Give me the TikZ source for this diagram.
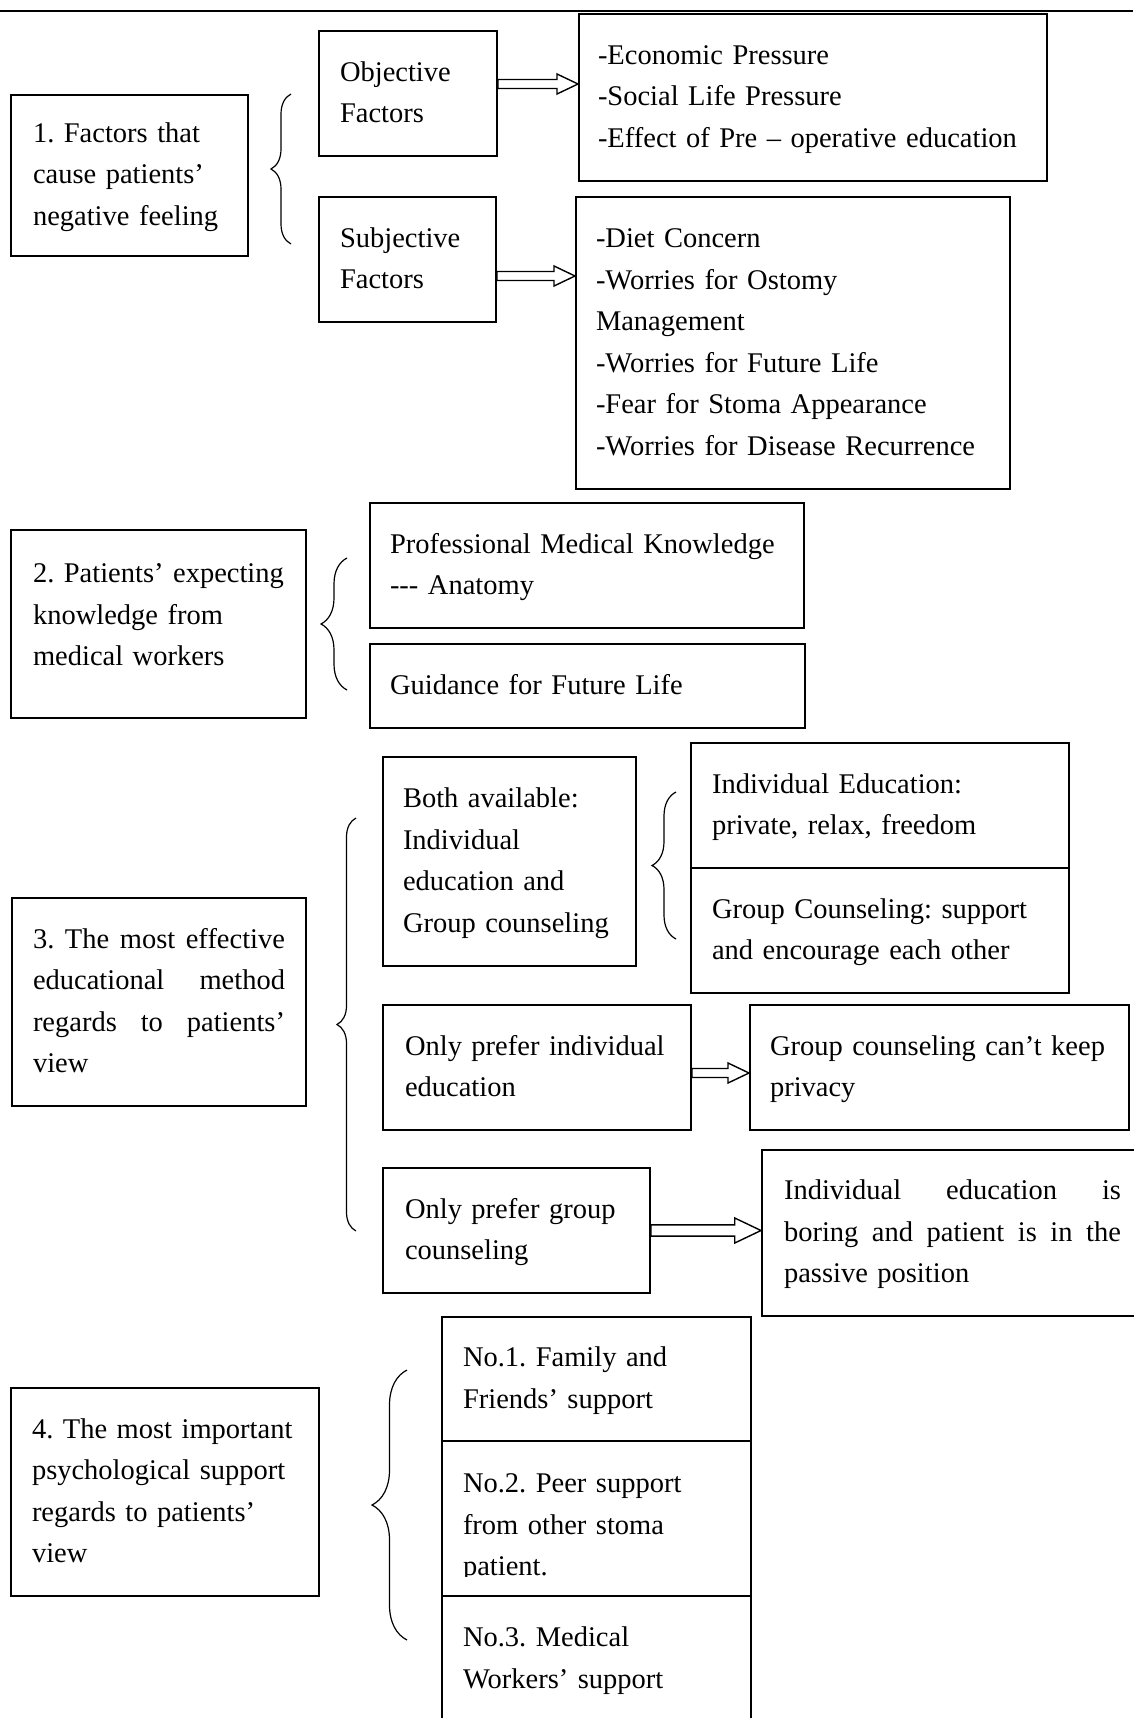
\documentclass[tikz,border=0pt]{standalone}
\usepackage{fontspec}
\setmainfont{Liberation Serif}
\usetikzlibrary{calc, decorations.pathreplacing}
\frenchspacing
\hyphenpenalty=10000
\exhyphenpenalty=10000
\tikzstyle{fBox} = [rectangle, draw=black, line width=2pt, align=left, inner ysep=0pt, font=\fontsize{28.5}{41.5}\selectfont, execute at begin node=\strut, execute at end node=\strut]
\tikzstyle{fBrace} = [decorate, line width=1.2pt]
\tikzstyle{fHollow} = [draw=black, line width=1.4pt, fill=white]
% hollow block arrow: from, to, shift of the shaft, size
\newcommand{\fBlockArrow}[4]{%
    \draw [fHollow] let \p1 = ([yshift=#3]#1.east), \p2 = (#2.west) in
        (\x1,\y1+4.5pt*#4) -- (\x2-21pt*#4,\y1+4.5pt*#4) -- (\x2-21pt*#4,\y1+10pt*#4) -- (\x2,\y1)
        -- (\x2-21pt*#4,\y1-10pt*#4) -- (\x2-21pt*#4,\y1-4.5pt*#4) -- (\x1,\y1-4.5pt*#4) -- cycle;}

\begin{document}
\begin{tikzpicture}[x=1pt, y=-1pt]
    \useasboundingbox (0,0) rectangle (1133,1718);
    \draw [line width=2.5pt] (0,11) -- (1133,11);

    % 1. negative feeling
    \node (factors) [fBox, inner xsep=22pt, text width=193pt, minimum height=161pt] at (129.5,175.5) {1. Factors that\\cause patients’\\negative feeling};
    \node (objective) [fBox, inner xsep=21pt, text width=136pt, minimum height=125pt] at (408,93.5) {Objective\\Factors};
    \node (objlist) [fBox, inner xsep=19pt, text width=430pt, minimum height=167pt] at (813,97.5) {-Economic Pressure\\-Social Life Pressure\\-Effect of Pre – operative education};
    \node (subjective) [fBox, inner xsep=21pt, text width=135pt, minimum height=125pt] at (407.5,259.5) {Subjective\\Factors};
    \node (subjlist) [fBox, inner xsep=20pt, text width=394pt, minimum height=292pt] at (793,343) {-Diet Concern\\-Worries for Ostomy\\Management\\-Worries for Future Life\\-Fear for Stoma Appearance\\-Worries for Disease Recurrence};

    % 2. expected knowledge
    \node (expecting) [fBox, inner xsep=22pt, text width=251pt, minimum height=188pt] at (158.5,624) {2. Patients’ expecting\\knowledge from\\medical workers\rule[-29pt]{0pt}{0pt}};
    \node (professional) [fBox, inner xsep=20pt, text width=394pt, minimum height=125pt] at (587,565.5) {Professional Medical Knowledge\\-{}-{}- Anatomy};
    \node (guidance) [fBox, inner xsep=20pt, text width=395pt, minimum height=84pt] at (587.5,686) {Guidance for Future Life};

    % 3. educational method
    \node (method) [fBox, inner xsep=21pt, text width=252pt, minimum height=208pt] at (159,1002) {3.\hfill The\hfill most\hfill effective\\educational\hfill method\\regards\hfill to\hfill patients’\\view};
    \node (both) [fBox, inner xsep=20pt, text width=213pt, minimum height=209pt] at (509.5,861.5) {Both available:\\Individual\\education and\\Group counseling};
    \node (indiv) [fBox, inner xsep=21pt, text width=336pt, minimum height=125pt] at (880,805.5) {Individual Education:\\private, relax, freedom};
    \node (group) [fBox, inner xsep=21pt, text width=336pt, minimum height=125pt] at (880,930.5) {Group Counseling: support\\and encourage each other};
    \node (onlyindiv) [fBox, inner xsep=22pt, text width=264pt, minimum height=125pt] at (537,1067.5) {Only prefer individual\\education};
    \node (noprivacy) [fBox, inner xsep=20pt, text width=339pt, minimum height=125pt] at (939.5,1067.5) {Group counseling can’t keep\\privacy};
    \node (onlygroup) [fBox, inner xsep=22pt, text width=223pt, minimum height=125pt] at (516.5,1230.5) {Only prefer group\\counseling};
    \node (boring) [fBox, inner xsep=22pt, text width=337pt, minimum height=166pt] at (952.5,1233) {Individual\hfill education\hfill is\\boring\hfill and\hfill patient\hfill is\hfill in\hfill the\\passive position};

    % 4. psychological support
    \node (support) [fBox, inner xsep=21pt, text width=266pt, minimum height=208pt] at (165,1492) {4. The most important\\psychological support\\regards to patients’\\view};
    \node (family) [fBox, inner xsep=21pt, text width=267pt, minimum height=124pt] at (596.5,1379) {No.1. Family and\\Friends’ support};
    \node (peer) [fBox, inner xsep=21pt, text width=267pt, minimum height=155pt] at (596.5,1518.5) {\rule{0pt}{44pt}No.2. Peer support\\from other stoma\\patient.};
    \fill [white] ([xshift=3pt,yshift=3pt]peer.south west) rectangle ([xshift=-3pt,yshift=20pt]peer.south east);
    \node (medical) [fBox, inner xsep=21pt, text width=267pt, minimum height=126pt] at (596.5,1659) {No.3. Medical\\Workers’ support};

    % braces
    \coordinate (brace1a) at (291,244);
    \coordinate (brace1b) at (291,94);
    \coordinate (brace2a) at (347,690);
    \coordinate (brace2b) at (347,558);
    \coordinate (brace3a) at (356,1231);
    \coordinate (brace3b) at (356,818);
    \coordinate (brace4a) at (676,939);
    \coordinate (brace4b) at (676,792);
    \coordinate (brace5a) at (407,1640);
    \coordinate (brace5b) at (407,1370);
    \draw [fBrace, decoration={brace, amplitude=20pt}] (brace1a) -- (brace1b);
    \draw [fBrace, decoration={brace, amplitude=26pt}] (brace2a) -- (brace2b);
    \draw [fBrace, decoration={brace, amplitude=19pt}] (brace3a) -- (brace3b);
    \draw [fBrace, decoration={brace, amplitude=24pt}] (brace4a) -- (brace4b);
    \draw [fBrace, decoration={brace, amplitude=35pt}] (brace5a) -- (brace5b);

    % arrows
    \fBlockArrow{objective}{objlist}{9.5pt}{1}
    \fBlockArrow{subjective}{subjlist}{-16.5pt}{1}
    \fBlockArrow{onlyindiv}{noprivacy}{-5.5pt}{1}
    \fBlockArrow{onlygroup}{boring}{0pt}{1.25}
\end{tikzpicture}
\end{document}
